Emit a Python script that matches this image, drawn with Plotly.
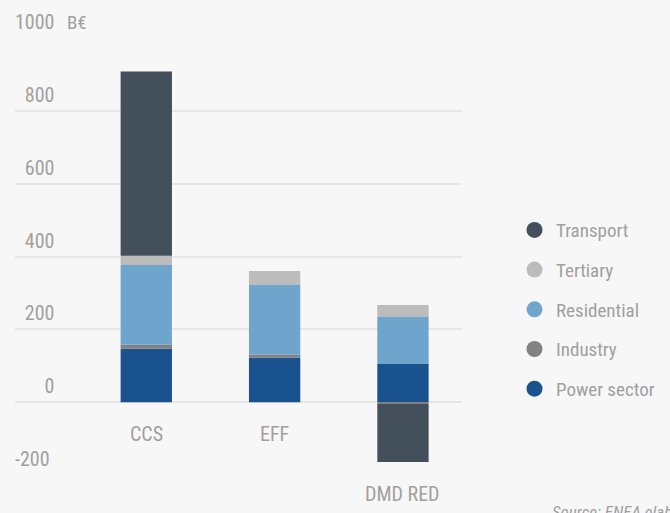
import plotly.graph_objects as go

# ── data (B€) ────────────────────────────────────────────────────────────────
categories = ["CCS", "EFF", "DMD RED"]
power_sector = [147, 122, 105]
industry = [11, 8, -5]
residential = [219, 192, 129]
tertiary = [25, 38, 33]
transport = [506, 0, -159]

series = [
    ("Power sector", power_sector, "#1a5290"),
    ("Industry", industry, "#828282"),
    ("Residential", residential, "#6fa4cd"),
    ("Tertiary", tertiary, "#bcbcbc"),
    ("Transport", transport, "#434f5a"),
]

y_ticks = [-200, 0, 200, 400, 600, 800, 1000]

FONT = "Roboto Condensed, Liberation Sans Narrow, DejaVu Sans Condensed, Roboto"
GREY_TXT = "#a0a0a0"
BG = "#f7f7f7"
PLOT_L, PLOT_W = 15, 447

fig = go.Figure()
for name, vals, clr in series:
    fig.add_trace(go.Bar(x=list(range(len(categories))), y=vals, name=name,
                         marker=dict(color=clr, line_width=0), width=0.4,
                         showlegend=False))

# legend with round markers, top to bottom
for name, vals, clr in reversed(series):
    fig.add_trace(go.Scatter(x=[None], y=[None], mode="markers", name=name,
                             legendgroup=name,
                             marker=dict(color=clr, size=16, symbol="circle")))

# category labels just below the lowest part of each bar
for i, cat in enumerate(categories):
    low = sum(min(0, s[1][i]) for s in series)
    fig.add_annotation(x=i, y=low, xref="x", yref="y", text=cat,
                       showarrow=False, yanchor="top", yshift=-18,
                       font=dict(size=20, color=GREY_TXT, family=FONT))

fig.add_annotation(x=(65 - PLOT_L) / PLOT_W, y=1, xref="paper", yref="paper",
                   text="B€", showarrow=False, xanchor="left",
                   yanchor="bottom", yshift=2,
                   font=dict(size=19, color=GREY_TXT, family=FONT))
fig.add_annotation(x=(550 - PLOT_L) / PLOT_W, y=0, xref="paper", yref="paper",
                   text="Source: ENEA elaboration", showarrow=False,
                   xanchor="left", yanchor="top", yshift=-25,
                   font=dict(size=17, color=GREY_TXT, family=FONT,
                             style="italic"))

pad = "\u2007"
fig.update_layout(
    width=670, height=513,
    margin=dict(l=PLOT_L, r=670 - PLOT_L - PLOT_W, t=38, b=38,
                autoexpand=False),
    paper_bgcolor=BG, plot_bgcolor=BG,
    barmode="relative",
    font=dict(family=FONT, color=GREY_TXT, size=20),
    legend=dict(x=(513 - PLOT_L) / PLOT_W, y=0.604, xanchor="left",
                yanchor="top", bgcolor="rgba(0,0,0,0)", tracegroupgap=12,
                itemwidth=33,
                font=dict(size=19, color=GREY_TXT, family=FONT)),
)
fig.update_xaxes(range=[-1.023, 2.46], showticklabels=False, showgrid=False,
                 zeroline=False, fixedrange=True)
fig.update_yaxes(range=[-200, 1000], tickvals=y_ticks,
                 ticktext=[pad * (4 - len(str(v))) + str(v) if v >= 0 else str(v)
                           for v in y_ticks],
                 ticklabelposition="inside top", ticklabeloverflow="allow",
                 ticklabelshift=-2, ticklabelstandoff=-3,
                 showgrid=True, gridcolor="#e6e6e6", gridwidth=1.5,
                 zeroline=False, fixedrange=True,
                 tickfont=dict(size=20, color=GREY_TXT))

fig.write_html("out.html", config={"displayModeBar": False},
               post_script="document.body.style.margin = '0';")
